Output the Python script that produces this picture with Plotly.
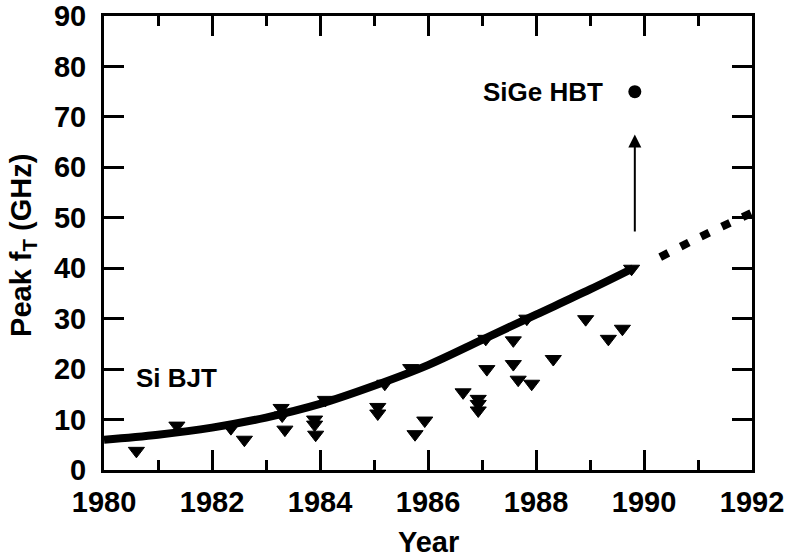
import plotly.graph_objects as go

# Si BJT device results (year, peak fT in GHz)
bjt_year = [1980.6, 1981.35, 1982.35, 1982.6, 1983.28, 1983.3, 1983.35,
            1983.9, 1983.9, 1983.92, 1984.1, 1985.07, 1985.07, 1985.2,
            1985.68, 1985.76, 1985.94, 1986.65, 1986.93, 1986.93, 1986.93,
            1987.07, 1987.09, 1987.58, 1987.58, 1987.67, 1987.92, 1987.83,
            1988.32, 1988.92, 1989.34, 1989.6, 1989.77]
bjt_ft = [3.8, 8.8, 8.3, 6.0, 12.3, 10.8, 8.0,
          10.0, 9.0, 7.0, 13.9, 12.5, 11.2, 17.1,
          20.2, 7.1, 9.8, 15.4, 14.1, 13.1, 11.8,
          26.0, 20.0, 25.7, 21.0, 17.9, 17.1, 30.0,
          22.0, 29.9, 26.0, 28.0, 39.9]

# Trend of the best Si BJT results
trend_year = [1980, 1981, 1982, 1983, 1984, 1985, 1986, 1987, 1988, 1989, 1989.8]
trend_ft = [6.0, 7.0, 8.4, 10.4, 13.1, 16.7, 20.8, 25.8, 30.8, 35.8, 40.0]

# Extrapolated trend
extrap_year = [1990.3, 1991.0, 1992.0]
extrap_ft = [42.2, 46.0, 51.0]

# SiGe HBT result
sige_year = [1989.83]
sige_ft = [75.0]

x_ticks = [1980, 1982, 1984, 1986, 1988, 1990, 1992]
y_ticks = [0, 10, 20, 30, 40, 50, 60, 70, 80, 90]
x_range = [1980, 1992]
y_range = [0, 90]

FONT = "Liberation Sans, Arial, Helvetica, sans-serif"
TICK_FONT = dict(family=FONT, size=29, color="black", weight="bold")
NOTE_FONT = dict(family=FONT, size=26, color="black", weight="bold")

fig = go.Figure()

fig.add_trace(go.Scatter(
    x=trend_year, y=trend_ft, mode="lines",
    line=dict(color="black", width=8, shape="spline", smoothing=1.0),
    hoverinfo="skip", showlegend=False))

fig.add_trace(go.Scatter(
    x=extrap_year, y=extrap_ft, mode="lines",
    line=dict(color="black", width=8, dash="9px,14px", shape="spline"),
    hoverinfo="skip", showlegend=False))

fig.add_trace(go.Scatter(
    x=bjt_year, y=bjt_ft, mode="markers",
    marker=dict(symbol="triangle-down", size=14, color="black",
                line=dict(color="black", width=1)),
    showlegend=False))

fig.add_trace(go.Scatter(
    x=sige_year, y=sige_ft, mode="markers",
    marker=dict(symbol="circle", size=13, color="black"),
    showlegend=False))

# Empty helper trace so the overlaid label axes get drawn
fig.add_trace(go.Scatter(
    x=x_range, y=y_range, xaxis="x2", yaxis="y2", mode="lines",
    line=dict(color="rgba(0,0,0,0)", width=0),
    hoverinfo="skip", showlegend=False))

# Frame axes: inside ticks mirrored on all four sides, no labels
frame = dict(
    showline=True, linecolor="black", linewidth=3,
    ticks="inside", ticklen=20, tickwidth=3, tickcolor="black",
    mirror="ticks", showgrid=False, zeroline=False,
    showticklabels=False, automargin=False,
)
# Label axes: transparent outside ticks set the label distance
labels = dict(
    ticks="outside", tickcolor="rgba(0,0,0,0)", tickwidth=1,
    showline=False, showgrid=False, zeroline=False,
    tickfont=TICK_FONT, automargin=False,
)
fig.update_layout(
    xaxis=dict(range=x_range, tickvals=x_ticks,
               minor=dict(dtick=1, ticks="inside", ticklen=10,
                          tickwidth=3, tickcolor="black"),
               **frame),
    yaxis=dict(range=y_range, tickvals=y_ticks, **frame),
    xaxis2=dict(overlaying="x", anchor="y2", side="bottom", range=x_range,
                tickvals=x_ticks, ticklen=6, **labels),
    yaxis2=dict(overlaying="y", anchor="x2", side="left", range=y_range,
                tickvals=y_ticks, ticklen=11, **labels),
)

annotations = [
    dict(x=1989.83, y=66.5, ax=1989.83, ay=47, xref="x", yref="y",
         axref="x", ayref="y", showarrow=True, arrowhead=2, arrowsize=1.3,
         arrowwidth=2, arrowcolor="black", text=""),
    dict(x=1988.13, y=75, xref="x", yref="y", text="SiGe HBT",
         showarrow=False, font=NOTE_FONT),
    dict(x=1981.35, y=18.3, xref="x", yref="y", text="Si BJT",
         showarrow=False, font=NOTE_FONT),
    dict(x=0.5, y=-0.159, xref="paper", yref="paper", text="Year",
         xanchor="center", yanchor="middle",
         showarrow=False, font=dict(family=FONT, size=29, color="black", weight="bold")),
    dict(x=-0.124, y=0.495, xref="paper", yref="paper",
         text="Peak f<sub>T</sub> (GHz)", textangle=-90,
         xanchor="center", yanchor="middle",
         showarrow=False, font=dict(family=FONT, size=29, color="black", weight="bold")),
]

fig.update_layout(
    width=787, height=559, autosize=False,
    margin=dict(l=104, r=35, t=16, b=89),
    paper_bgcolor="white", plot_bgcolor="white",
    font=dict(family=FONT, color="black"),
    annotations=annotations,
)

fig.write_html("out.html")
